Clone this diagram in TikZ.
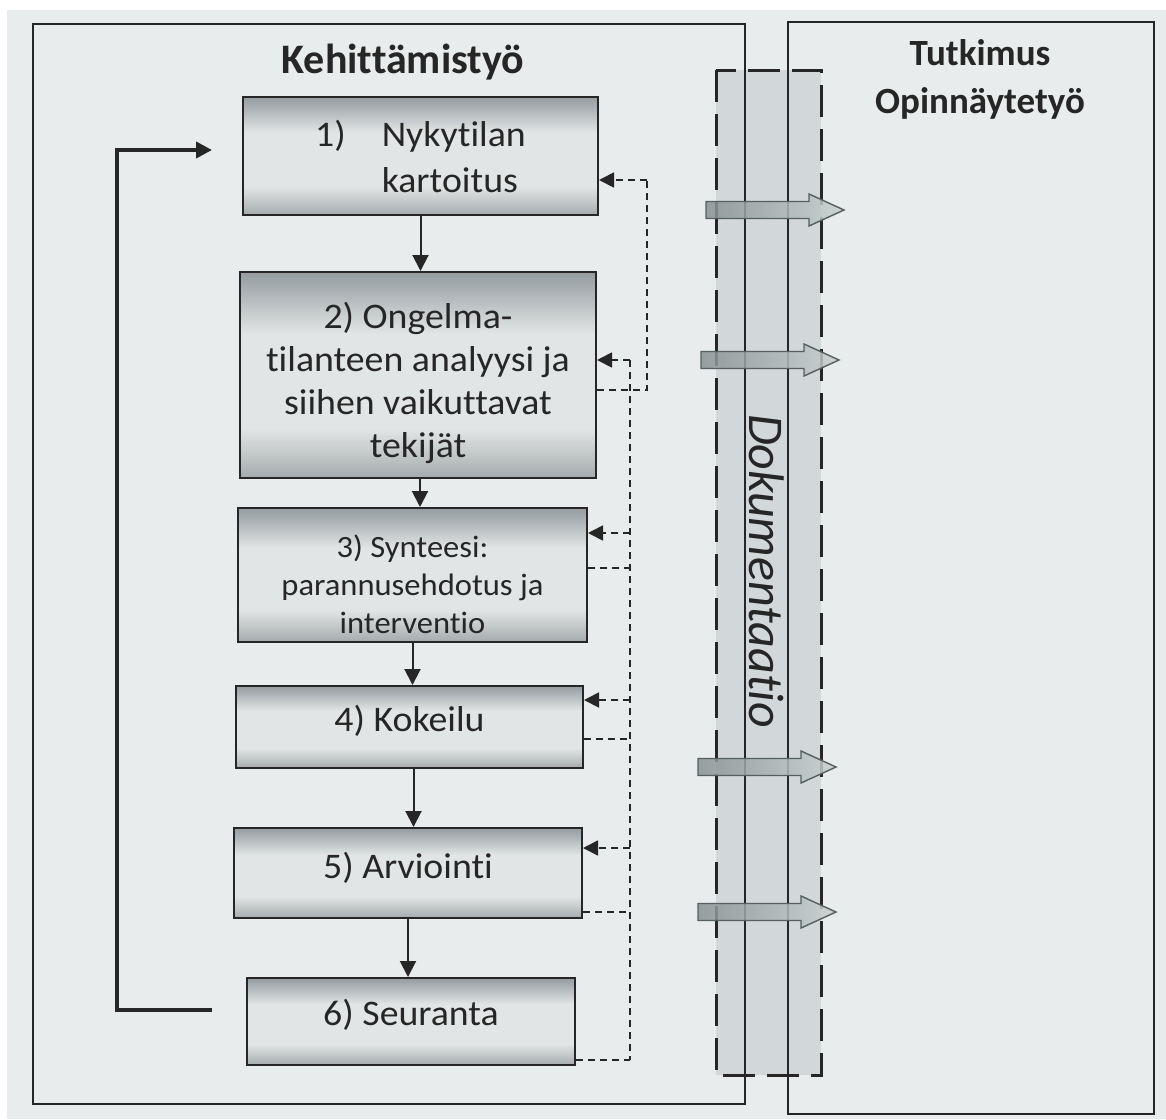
\documentclass[tikz,border=0pt]{standalone}
\usepackage{fontspec}
\setmainfont{Carlito}[Ligatures=NoCommon]
\newfontfamily\stepfont{Carlito}[Ligatures=NoCommon,FakeStretch=1.05]
\usetikzlibrary{arrows.meta}

\definecolor{paper}{RGB}{233,236,236}
\definecolor{ink}{RGB}{38,38,38}
\definecolor{bandfill}{RGB}{210,216,218}
\definecolor{boxtop}{RGB}{150,157,160}
\definecolor{boxupper}{RGB}{168,175,178}
\definecolor{boxmid}{RGB}{226,229,229}
\definecolor{boxbot}{RGB}{165,171,173}
\definecolor{bigdark}{RGB}{135,146,146}
\definecolor{biglight}{RGB}{200,208,208}
\definecolor{bigedge}{RGB}{85,95,95}

% vertical grey gradient of the process boxes (25bp = bottom edge, 75bp = top edge)
\pgfdeclareverticalshading{boxshade}{100bp}{%
  color(0bp)=(boxbot); color(25bp)=(boxbot); color(37bp)=(boxmid);
  color(60bp)=(boxmid); color(71bp)=(boxupper); color(75bp)=(boxtop);
  color(100bp)=(boxtop)}

% lines of a step text, moved up (positive) or down (negative) by #1
% while the node keeps centring on the unshifted lines
\newcommand\steplines[2]{\raisebox{#1}[\height][\depth]{\begin{tabular}{@{}c@{}}#2\end{tabular}}}

\tikzset{
  stepbox/.style={draw=ink, line width=1pt, shading=boxshade,
    inner sep=0pt, align=center, text=ink,
    font=\stepfont\fontsize{18}{21.5}\selectfont},
  flow/.style={draw=ink, line width=1pt, -{Triangle[width=8pt,length=8pt]}},
  fb/.style={draw=ink, line width=0.9pt, dash pattern=on 3.5pt off 2.5pt},
  fbarrow/.style={fb, -{Triangle[width=7.5pt,length=7.5pt]}},
  loopline/.style={draw=ink, line width=2pt, -{Triangle[width=8pt,length=8pt]}},
  frame/.style={draw=ink, line width=1pt},
  bigarrow/.style={draw=bigedge, line width=0.7pt, left color=bigdark,
    right color=biglight, fill opacity=0.85},
  title/.style={font=\fontsize{21}{24}\selectfont\bfseries, text=ink, align=center}
}

\begin{document}
\begin{tikzpicture}[x=0.5pt,y=-0.5pt]
\useasboundingbox (0,0) rectangle (1166,1119);
\fill[white] (0,0) rectangle (1166,1119);
\fill[paper] (7,10) rectangle (1166,1119);

% documentation band behind the frames
\fill[bandfill] (716,70) rectangle (821,1075);

% the two frames
\draw[frame] (33,24) rectangle (745,1104);
\draw[frame] (788,22) rectangle (1154,1114);

% dashed border of the band
\draw[ink, line width=1.5pt, dash pattern=on 16pt off 6pt] (716,70) rectangle (821,1075);
\node[rotate=-90, text=ink, font=\fontsize{25}{30}\selectfont\itshape] (dok) at (767,571) {Dokumentaatio};

% titles
\node[title] (tk) at (403,62) {Kehittämistyö};
\node[title, font=\fontsize{18.5}{24}\selectfont\bfseries] (tt) at (980,79) {Tutkimus\\Opinnäytetyö};

% process steps
\node[stepbox, minimum width=177.5pt, minimum height=59pt] (b1) at (420.5,156)
  {\raisebox{-2pt}[\height][\depth]{\renewcommand\arraystretch{1.07}%
   \begin{tabular}{@{}l@{\hspace{18pt}}l@{}}1)&Nykytilan\\&kartoitus\end{tabular}}};
\node[stepbox, minimum width=178pt, minimum height=103pt] (b2) at (418,375)
  {\steplines{-4.5pt}{2) Ongelma-\\tilanteen analyysi ja\\siihen vaikuttavat\\tekijät}};
\node[stepbox, minimum width=174.5pt, minimum height=67pt,
  font=\stepfont\fontsize{15.5}{19}\selectfont] (b3) at (412.5,575)
  {\steplines{-6.5pt}{3) Synteesi:\\parannusehdotus ja\\interventio}};
\node[stepbox, minimum width=173.5pt, minimum height=41pt] (b4) at (409.5,727)
  {\steplines{2pt}{4) Kokeilu}};
\node[stepbox, minimum width=174pt, minimum height=45pt] (b5) at (408,873)
  {\steplines{1.5pt}{5) Arviointi}};
\node[stepbox, minimum width=164pt, minimum height=43.5pt] (b6) at (411,1021.5)
  {\steplines{2.5pt}{6) Seuranta}};

% main flow
\draw[flow] (b1.south) -- (b1.south |- b2.north);
\draw[flow] ([xshift=1pt]b2.south) -- ([xshift=1pt]b2.south |- b3.north);
\draw[flow] (b3.south) -- (b3.south |- b4.north);
\draw[flow] ([xshift=2pt]b4.south) -- ([xshift=2pt]b4.south |- b5.north);
\draw[flow] (b5.south) -- (b5.south |- b6.north);

% return loop from the last step to the first
\coordinate (loopS) at (212,1010);
\coordinate (loopE) at (212,150);
\draw[loopline] (loopS) -- (117,1010) |- (loopE);

% dashed feedback
\coordinate (k1) at (647,180);
\coordinate (bus) at (630,360);
\coordinate (busEnd) at (630,1060);
\draw[fb] (b2.east |- 0,390) -| (k1);
\draw[fbarrow] (k1) -- (b1.east |- k1);
\draw[fb] (bus) -- (busEnd);
\draw[fbarrow] (bus) -- (b2.east |- bus);
\draw[fbarrow] (bus |- 0,533) -- (b3.east |- 0,533);
\draw[fb] (b3.east |- 0,568) -- (bus |- 0,568);
\draw[fbarrow] (bus |- 0,700) -- (b4.east |- 0,700);
\draw[fb] (b4.east |- 0,739) -- (bus |- 0,739);
\draw[fbarrow] (bus |- 0,848) -- (b5.east |- 0,848);
\draw[fb] (b5.east |- 0,912) -- (bus |- 0,912);
\draw[fb] (b6.east |- busEnd) -- (busEnd);

% transfer arrows into the research frame (start points at the shaft's left end)
\coordinate (t1) at (706,210);
\coordinate (t2) at (701,360);
\coordinate (t3) at (698,767);
\coordinate (t4) at (698,912);
\foreach \t in {t1,t2,t3,t4}
  \path[bigarrow] (\t) ++(0,-8.5) -- ++(103,0) -- ++(0,-7.5) -- ++(35,16)
    -- ++(-35,16) -- ++(0,-7.5) -- ++(-103,0) -- cycle;
\end{tikzpicture}
\end{document}
